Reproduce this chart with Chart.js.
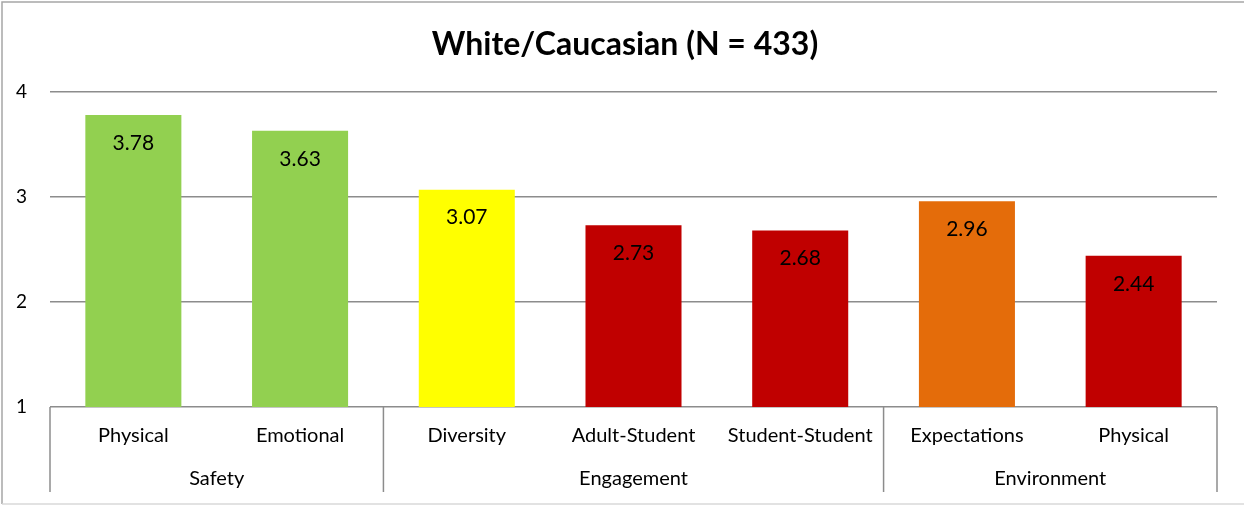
<!DOCTYPE html>
<html>
<head>
<meta charset="utf-8">
<script src="https://cdn.jsdelivr.net/npm/chart.js@4"></script>
<style>
  body { margin: 0; background: #fff; }
  #wrap { width: 1244px; height: 505px; position: relative; }
</style>
</head>
<body>
<div id="wrap"><canvas id="myChart" width="1244" height="505"></canvas></div>
<script>
const labels = ['Physical', 'Emotional', 'Diversity', 'Adult-Student', 'Student-Student', 'Expectations', 'Physical'];
const groups = ['Safety', 'Engagement', 'Environment'];
const groupSizes = [2, 3, 2];
const values = [3.78, 3.63, 3.07, 2.73, 2.68, 2.96, 2.44];
const barColors = ['#92D050', '#92D050', '#FFFF00', '#C00000', '#C00000', '#E46C0A', '#C00000'];
const yTicks = [1, 2, 3, 4];

const FONT = 'Lato, "Open Sans", sans-serif';

// border, title, value labels and the grouped axis
const extras = {
    id: 'extras',
    afterDraw(chart) {
        const ctx = chart.ctx;
        const area = chart.chartArea;
        const x = chart.scales.x;
        ctx.save();

        // outer frame
        ctx.strokeStyle = '#A6A6A6';
        ctx.lineWidth = 1.5;
        ctx.beginPath();
        ctx.moveTo(2, 504);
        ctx.lineTo(2, 2);
        ctx.lineTo(1244, 2);
        ctx.stroke();
        ctx.strokeStyle = '#D9D9D9';
        ctx.beginPath();
        ctx.moveTo(2, 504);
        ctx.lineTo(1244, 504);
        ctx.stroke();

        // title
        ctx.fillStyle = '#000';
        ctx.font = 'bold 32px ' + FONT;
        ctx.textAlign = 'center';
        ctx.textBaseline = 'middle';
        ctx.fillText('White/Caucasian (N = 433)', 625, 45);

        // value labels inside bar tops
        ctx.font = '21px ' + FONT;
        const meta = chart.getDatasetMeta(0);
        meta.data.forEach((bar, i) => {
            ctx.fillText(values[i].toFixed(2), bar.x, bar.y + 28);
        });

        // group separators and group labels
        const bottom = area.bottom + 85;
        const edges = [area.left];
        let idx = 0;
        groupSizes.forEach((n, g) => {
            idx += n;
            if (idx < labels.length) {
                edges.push((x.getPixelForValue(idx - 1) + x.getPixelForValue(idx)) / 2);
            } else {
                edges.push(area.right);
            }
        });
        ctx.strokeStyle = '#8C8C8C';
        ctx.lineWidth = 1.5;
        edges.forEach(e => {
            ctx.beginPath();
            ctx.moveTo(e, area.bottom);
            ctx.lineTo(e, bottom);
            ctx.stroke();
        });
        ctx.font = '20px ' + FONT;
        groups.forEach((g, i) => {
            ctx.fillText(g, (edges[i] + edges[i + 1]) / 2, area.bottom + 72);
        });
        ctx.restore();
    }
};

new Chart(document.getElementById('myChart'), {
    type: 'bar',
    data: {
        labels: labels,
        datasets: [{
            data: values,
            backgroundColor: barColors,
            borderWidth: 0,
            barPercentage: 0.576,
            categoryPercentage: 1
        }]
    },
    options: {
        responsive: false,
        animation: false,
        layout: { padding: { top: 92, right: 27, left: 0, bottom: 0 } },
        plugins: {
            legend: { display: false },
            title: { display: false },
            tooltip: { enabled: false }
        },
        scales: {
            x: {
                grid: { display: false, drawTicks: false },
                border: { display: false },
                ticks: {
                    color: '#000',
                    font: { family: FONT, size: 20 },
                    padding: 17,
                    maxRotation: 0,
                    autoSkip: false
                },
                afterFit: s => { s.height = 98; }
            },
            y: {
                min: 1,
                max: 4,
                afterBuildTicks: s => { s.ticks = yTicks.map(v => ({ value: v })); },
                grid: { color: '#8C8C8C', lineWidth: 1.5, drawTicks: false },
                border: { display: false },
                ticks: {
                    color: '#000',
                    font: { family: FONT, size: 19 },
                    padding: 23
                },
                afterFit: s => { s.width = 50; }
            }
        }
    },
    plugins: [extras]
});
</script>
</body>
</html>
